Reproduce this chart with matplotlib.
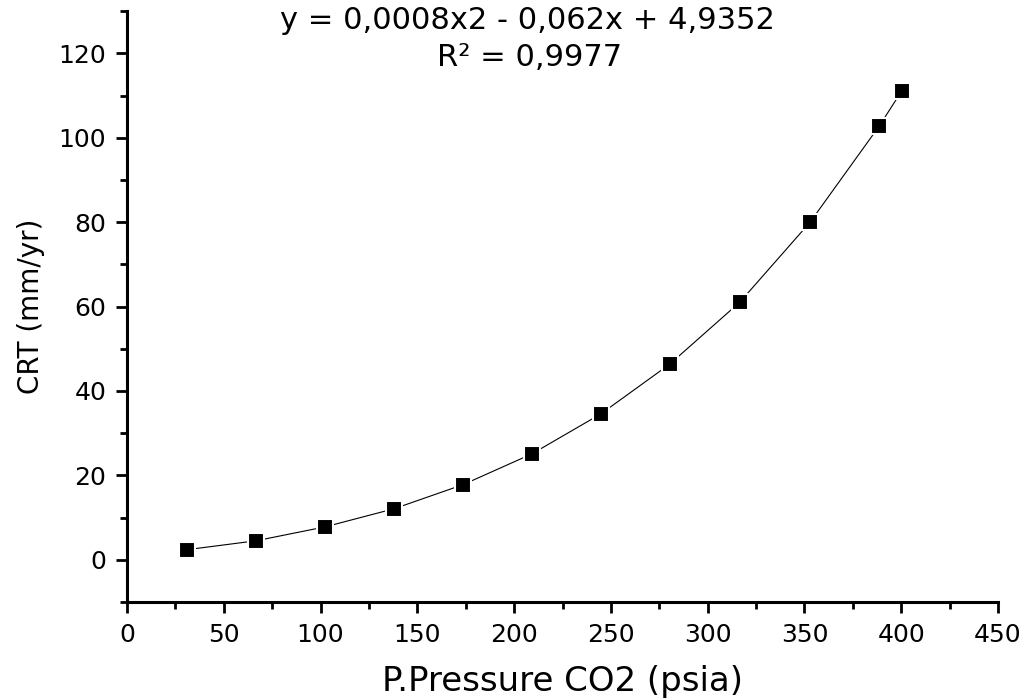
import matplotlib
matplotlib.use('Agg')
import matplotlib.pyplot as plt
from matplotlib.ticker import MultipleLocator

# Data
pressure = [31.0, 66.6, 102.3, 138.0, 173.6, 209.2, 244.9, 280.5, 316.7, 352.9, 388.5, 400.4]
crt = [2.4, 4.5, 7.8, 12.1, 17.8, 25.1, 34.6, 46.4, 61.1, 80.0, 102.7, 111.2]

# wide sans font, the reference text is rendered wide
plt.rcParams['font.family'] = ['DejaVu Sans']

fig = plt.figure(figsize=(10.29, 7), dpi=100)
ax = fig.add_axes([0.1234, 0.14, 0.8465, 0.844])

# line with gaps near markers (white marker edges hide the line end)
ax.plot(pressure, crt, color='black', linewidth=0.8, zorder=2)
ax.plot(pressure, crt, linestyle='none', marker='s', markersize=11,
        markerfacecolor='black', markeredgecolor='white', markeredgewidth=1.5, zorder=3)

ax.set_xlim(0, 450)
ax.set_ylim(-10, 130)
ax.xaxis.set_major_locator(MultipleLocator(50))
ax.xaxis.set_minor_locator(MultipleLocator(25))
ax.yaxis.set_minor_locator(MultipleLocator(10))
ax.set_yticks(range(0, 121, 20))

for side in ['top', 'right']:
    ax.spines[side].set_visible(False)
for side in ['left', 'bottom']:
    ax.spines[side].set_linewidth(2.2)

ax.tick_params(which='major', direction='out', length=8, width=2, labelsize=18, pad=7)
ax.tick_params(which='minor', direction='out', length=5, width=2)

ax.set_xlabel('P.Pressure CO2 (psia)', fontsize=24.5, labelpad=13)
ax.set_ylabel('CRT (mm/yr)', fontsize=20, labelpad=10)

fig.text(0.513, 0.971, 'y = 0,0008x2 - 0,062x + 4,9352', fontsize=22,
         ha='center', va='center')
fig.text(0.515, 0.918, 'R² = 0,9977', fontsize=22, ha='center', va='center')

fig.savefig('out.png', dpi=100)
